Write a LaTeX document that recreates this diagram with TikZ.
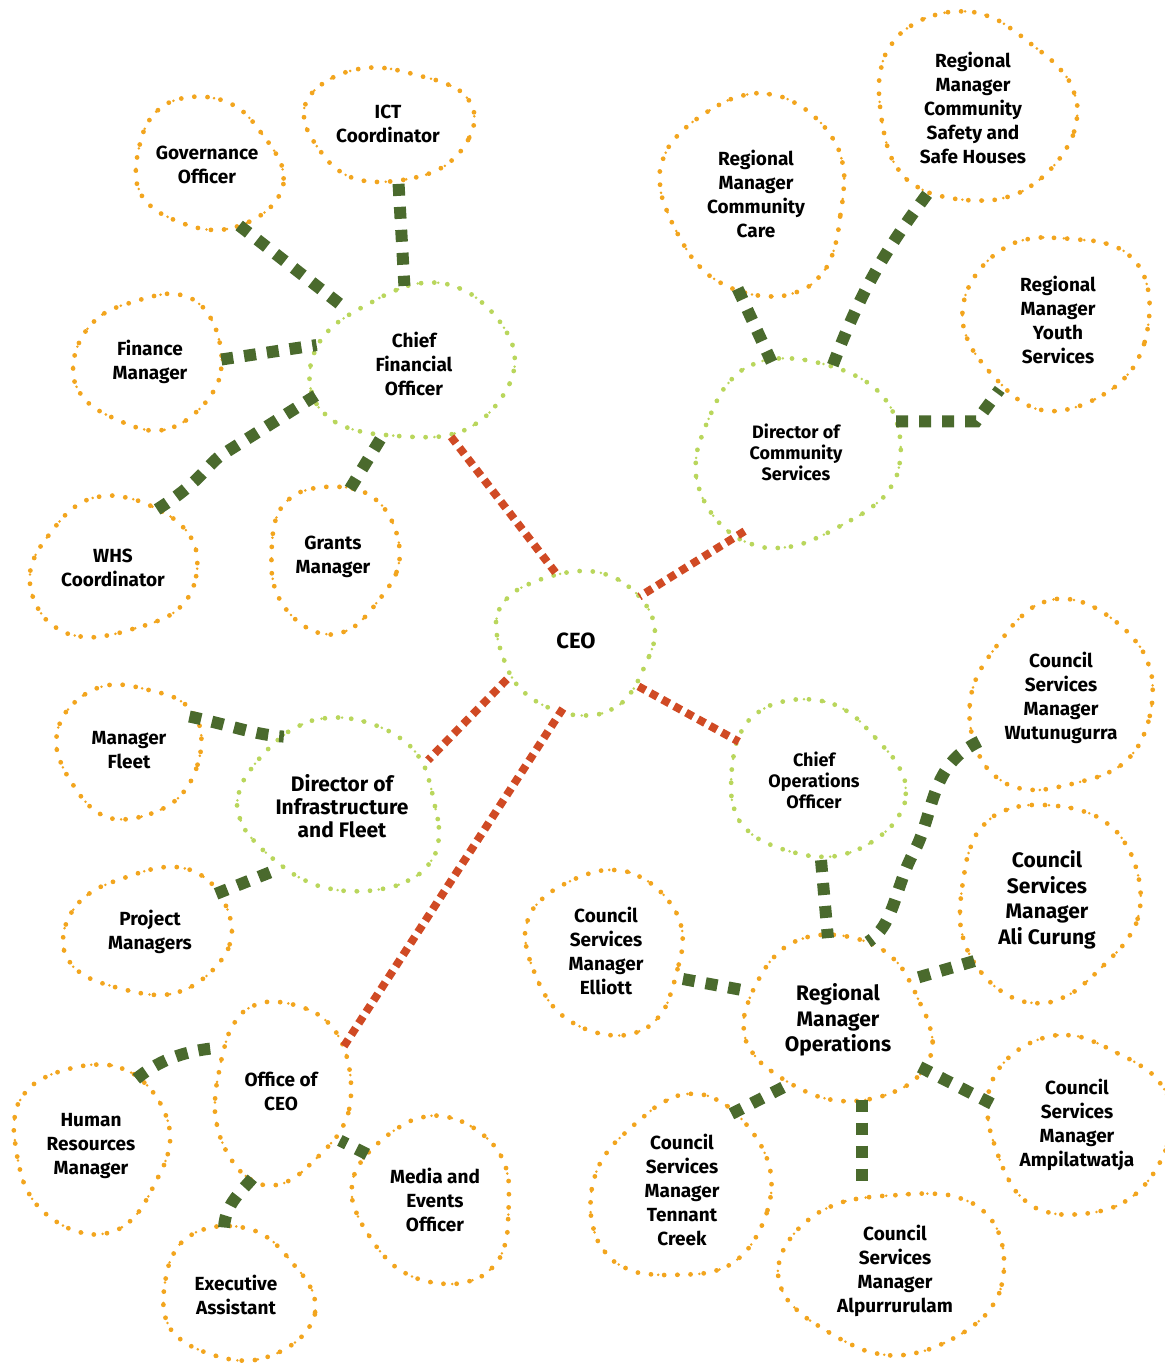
\documentclass[tikz,border=0pt]{standalone}
\usepackage{fontspec}
\setmainfont{Fira Sans}
\usetikzlibrary{shapes.geometric}
\definecolor{orng}{HTML}{F2A51E}
\definecolor{lgrn}{HTML}{B9D65C}
\definecolor{dgrn}{HTML}{4A6A2D}
\definecolor{rred}{HTML}{D04A24}
\tikzset{
 nd/.style 2 args={ellipse, minimum width=#1pt, minimum height=#2pt, inner sep=0pt, align=center, font=\fontsize{9.5}{12}\selectfont\bfseries, text=black},
 fsmall/.style={font=\fontsize{9}{10.5}\selectfont\bfseries},
 fbig/.style={font=\fontsize{10.5}{12.8}\selectfont\bfseries},
 fdif/.style={font=\fontsize{10.5}{11.6}\selectfont\bfseries},
 fceo/.style={font=\fontsize{11}{13}\selectfont\bfseries},
 dotA/.style={draw=#1, line width=2.4pt, line cap=round, dash pattern=on 0pt off 6.6pt},
 dotB/.style={draw=#1, line width=1.4pt, line cap=round, dash pattern=on 0pt off 10.3pt, dash phase=3.1pt},
 gcon/.style={draw=dgrn, line width=6pt, dash pattern=on 6pt off 5.5pt},
 rcon/.style={draw=rred, line width=4pt, dash pattern=on 4pt off 2.8pt},
}
\newcommand\blobat[6]{%
 \draw[dotA=#5] plot[smooth cycle, domain=0:345, samples=24, variable=\t] ({#1+#3*(1+0.06*sin(2*\t+#6)+0.045*sin(3*\t+2*#6)+0.02*sin(5*\t+3*#6))*cos(\t)}, {#2+#4*(1+0.06*sin(2*\t+#6)+0.045*sin(3*\t+2*#6)+0.02*sin(5*\t+3*#6))*sin(\t)});
 \draw[dotB=#5] plot[smooth cycle, domain=0:345, samples=24, variable=\t] ({#1+#3*(1+0.06*sin(2*\t+#6)+0.045*sin(3*\t+2*#6)+0.02*sin(5*\t+3*#6))*cos(\t)}, {#2+#4*(1+0.06*sin(2*\t+#6)+0.045*sin(3*\t+2*#6)+0.02*sin(5*\t+3*#6))*sin(\t)});
}
\newcommand\orgunit[9]{\node[nd={#4}{#5},#9] (#1) at (#2,#3) {#8}; \blobat{#2}{#3}{#4}{#5}{#6}{#7}}
\begin{document}
\begin{tikzpicture}[x=0.5pt,y=-0.5pt]
\useasboundingbox (0,0) rectangle (1164,1363);
% leaves and managers
\orgunit{gov}{207}{165}{72}{67}{orng}{10}{Governance\\Officer}{}
\orgunit{ict}{388}{124}{80}{60}{orng}{70}{ICT\\Coordinator}{}
\orgunit{fin}{150}{362}{71}{70}{orng}{130}{Finance\\Manager}{}
\orgunit{whs}{113}{568}{85}{68}{orng}{200}{WHS\\Coordinator}{}
\orgunit{gra}{333}{557}{68}{70}{orng}{250}{Grants\\Manager}{}
\orgunit{rmcc}{756}{194}{96}{96}{orng}{300}{Regional\\Manager\\Community\\Care}{}
\orgunit{rmcs}{973}{108}{95}{98}{orng}{40}{Regional\\Manager\\Community\\Safety and\\Safe Houses}{}
\orgunit{rmys}{1058}{320}{88}{92}{orng}{95}{Regional\\Manager\\Youth\\Services}{}
\orgunit{cfo}{414}{364}{100}{78}{lgrn}{160}{Chief\\Financial\\Officer}{}
\orgunit{dcs}{796}{452}{106}{90}{lgrn}{220}{Director of\\Community\\Services}{fsmall}
\orgunit{ceo}{576}{641}{83}{68}{lgrn}{280}{CEO}{fceo}
\orgunit{dif}{342}{806}{102}{84}{lgrn}{330}{Director of\\Infrastructure\\and Fleet}{fdif}
\orgunit{coo}{814}{780}{85}{80}{lgrn}{20}{Chief\\Operations\\Officer}{fsmall}
\orgunit{mfl}{129}{750}{68}{71}{orng}{80}{Manager\\Fleet}{}
\orgunit{pm}{150}{932}{81}{65}{orng}{140}{Project\\Managers}{}
\orgunit{wut}{1061}{698}{92}{93}{orng}{190}{Council\\Services\\Manager\\Wutunugurra}{}
\orgunit{ali}{1047}{900}{95}{94}{orng}{240}{Council\\Services\\Manager\\Ali Curung}{fbig}
\orgunit{ell}{606}{951}{82}{78}{orng}{290}{Council\\Services\\Manager\\Elliott}{}
\orgunit{rmo}{838}{1020}{93}{82}{orng}{350}{Regional\\Manager\\Operations}{fbig}
\orgunit{amp}{1077}{1125}{87}{94}{orng}{60}{Council\\Services\\Manager\\Ampilatwatja}{}
\orgunit{alp}{895}{1271}{107}{85}{orng}{110}{Council\\Services\\Manager\\Alpurrurulam}{}
\orgunit{ten}{682}{1190}{89}{91}{orng}{170}{Council\\Services\\Manager\\Tennant\\Creek}{}
\orgunit{oce}{281}{1091}{71}{87}{orng}{230}{Office of\\CEO}{}
\orgunit{hr}{91}{1146}{82}{80}{orng}{270}{Human\\Resources\\Manager}{}
\orgunit{med}{435}{1200}{82}{80}{orng}{310}{Media and\\Events\\Officer}{}
\orgunit{exa}{236}{1295}{74}{68}{orng}{15}{Executive\\Assistant}{}
% green connectors
\draw[gcon] (gov.-62) -- (cfo.141);
\draw[gcon] (ict.-80) -- (cfo.97);
\draw[gcon] (fin.2) -- (cfo.169);
\draw[gcon] (whs.53) .. controls (200,482) and (205,468) .. (220,456) -- (cfo.197);
\draw[gcon] (gra.76) -- (cfo.-114);
\draw[gcon] (rmcc.-101) -- (dcs.105);
\draw[gcon] (rmcs.-118) to[bend right=8] (dcs.67);
\draw[gcon] (dcs.17) -- ++(80,0) -- (rmys.-130);
\draw[gcon] (mfl.29) .. controls (230,725) and (255,735) .. (dif.130);
\draw[gcon] (pm.30) -- (dif.-136);
\draw[gcon] (coo.-85) -- (rmo.97);
\draw[gcon] (wut.-152) .. controls (930,765) and (935,810) .. (915,850) .. controls (895,885) and (895,925) .. (rmo.69);
\draw[gcon] (ali.-140) -- (rmo.28);
\draw[gcon] (ell.-20) -- (rmo.162);
\draw[gcon] (amp.166) -- (rmo.-30);
\draw[gcon] (rmo.-73) -- (rmo.-73 |- alp.111);
\draw[gcon] (ten.57) -- (rmo.-129);
\draw[gcon] (hr.56) .. controls (165,1055) and (195,1050) .. (oce.145);
\draw[gcon] (med.146) -- (oce.-40);
\draw[gcon] (exa.100) .. controls (225,1200) and (250,1185) .. (oce.-107);
% red connectors
\draw[rcon] (cfo.-63) -- (ceo.106);
\draw[rcon] (dcs.-123) -- (ceo.35);
\draw[rcon] (ceo.-151) -- (dif.28);
\draw[rcon] (ceo.-36) -- (coo.153);
\draw[rcon] (ceo.-101) -- (oce.35);
\end{tikzpicture}
\end{document}
